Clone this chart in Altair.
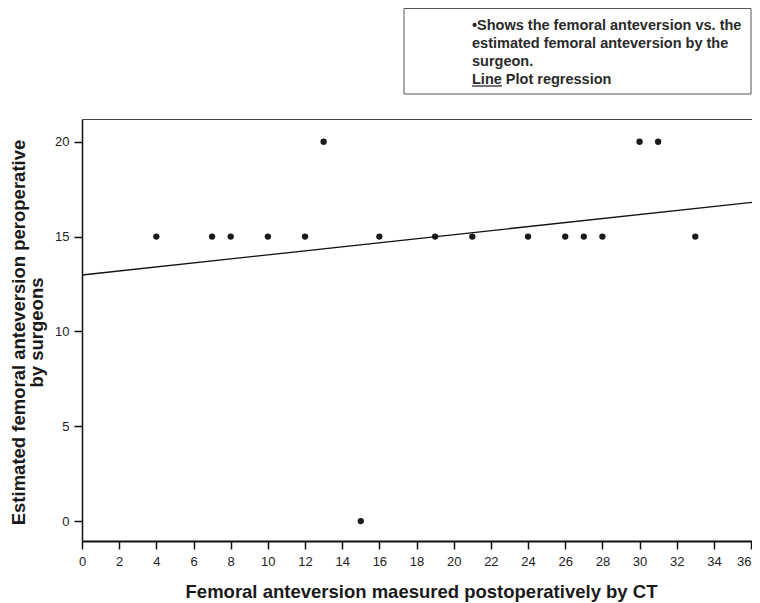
import altair as alt
import pandas as pd

# Data
ct_anteversion = [4, 7, 8, 10, 12, 13, 15, 16, 19, 21, 24, 26, 27, 28, 30, 31, 33]
surgeon_estimate = [15, 15, 15, 15, 15, 20, 0, 15, 15, 15, 15, 15, 15, 15, 20, 20, 15]

x_ticks = list(range(0, 37, 2))
y_ticks = [0, 5, 10, 15, 20]

x_title = "Femoral anteversion maesured postoperatively by CT"
y_title = ["Estimated femoral anteversion peroperative", "by surgeons"]
note_lines = [
    "\u2022Shows the femoral anteversion vs. the",
    "estimated femoral anteversion by the",
    "surgeon.",
    "Line Plot regression",
]

df = pd.DataFrame({"x": ct_anteversion, "y": surgeon_estimate})

FONT = "Liberation Sans"
W, H = 670, 422
X_MAX = 36.05
x_scale = alt.Scale(domain=[0, X_MAX], nice=False, zero=False)
y_scale = alt.Scale(domain=[-1.05, 21.2], nice=False, zero=False)

x_axis = alt.Axis(
    values=x_ticks, grid=False, title=x_title,
    domainColor="#111", domainWidth=2, tickColor="#111", tickWidth=1.5, tickSize=8,
    labelFont=FONT, labelFontSize=13, labelColor="#222", labelPadding=6,
    labelOverlap=False, labelBound=False, labelFlush=False,
    labelAlign={"condition": {"test": "datum.value >= 36", "value": "right"}, "value": "center"},
    titleFont=FONT, titleFontSize=18.5, titleFontWeight="bold", titleColor="#1a1a1a",
    titleX=339, titleY=56, titleBaseline="alphabetic", titleAlign="center",
)
y_axis = alt.Axis(
    values=y_ticks, grid=False, title=y_title,
    domainColor="#111", domainWidth=1.5, tickColor="#111", tickWidth=1.5, tickSize=8,
    labelFont=FONT, labelFontSize=13, labelColor="#222", labelPadding=5,
    titleFont=FONT, titleFontSize=18.5, titleFontWeight="bold", titleColor="#1a1a1a",
    titleX=-58, titleY=213, titleBaseline="alphabetic", titleAlign="center",
    titleAngle=270, titleLineHeight=18,
)

base = alt.Chart(df)

points = base.mark_circle(size=40, color="#1a1a1a", opacity=1).encode(
    x=alt.X("x:Q", scale=x_scale, axis=x_axis),
    y=alt.Y("y:Q", scale=y_scale, axis=y_axis),
)

reg = base.transform_regression("x", "y", extent=[0, X_MAX]).mark_line(
    color="#111", strokeWidth=1.4
).encode(
    x=alt.X("x:Q", scale=x_scale, axis=alt.Axis(orient="top", labels=False, ticks=False,
                                               title=None, grid=False, domainColor="#444",
                                               domainWidth=1.2)),
    y=alt.Y("y:Q", scale=y_scale),
)

box = alt.Chart(pd.DataFrame({"a": [0]})).mark_rect(
    fill="white", stroke="#555", strokeWidth=1
).encode(
    x=alt.value(322), x2=alt.value(669), y=alt.value(-110.5), y2=alt.value(-25)
)

note = alt.Chart(pd.DataFrame({"a": [0]})).mark_text(
    align="left", baseline="alphabetic", font=FONT, fontSize=14.5, fontWeight="bold",
    color="#2a2a2a", lineHeight=18,
).encode(
    x=alt.value(390), y=alt.value(-89.5), text=alt.value(note_lines)
)

underline = alt.Chart(pd.DataFrame({"a": [0]})).mark_rule(
    color="#2a2a2a", strokeWidth=1.3
).encode(
    x=alt.value(390), x2=alt.value(420), y=alt.value(-33)
)

chart = alt.layer(points, reg, box, note, underline).resolve_axis(x="independent").properties(
    width=W, height=H,
    autosize=alt.AutoSizeParams(type="none"),
    padding={"left": 74, "top": 111, "right": 0, "bottom": 62},
    background="white",
).configure_view(stroke=None)

chart.save("out.html", embed_options={"renderer": "svg", "actions": False})
